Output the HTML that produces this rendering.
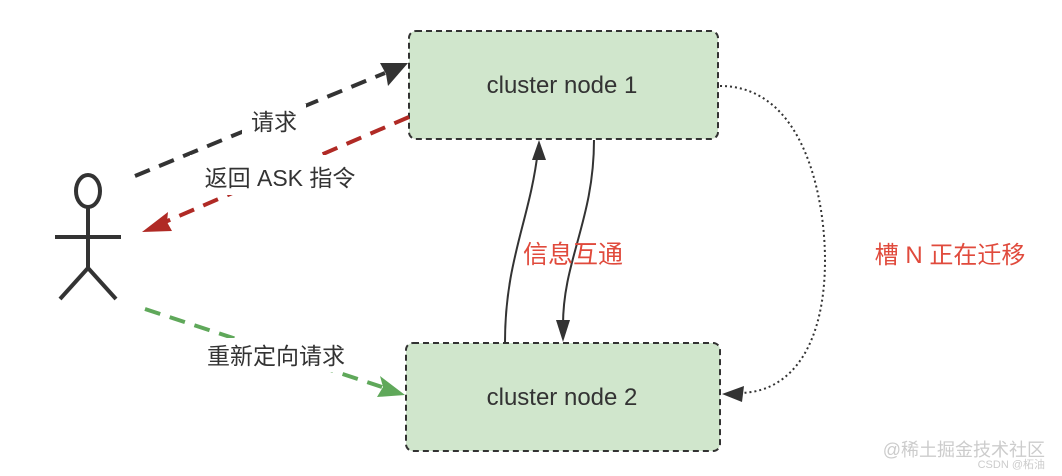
<!DOCTYPE html>
<html><head><meta charset="utf-8"><style>
html,body{margin:0;padding:0;background:#fff;width:1062px;height:476px;overflow:hidden}
text{font-family:"Liberation Sans","Noto Sans CJK SC",sans-serif}
</style></head><body>
<svg width="1062" height="476" viewBox="0 0 1062 476" xmlns="http://www.w3.org/2000/svg">
<rect x="409" y="31" width="309" height="108" rx="7" fill="#d0e6cc" stroke="#333" stroke-width="2" stroke-dasharray="6,4"/>
<rect x="406" y="343" width="314" height="108" rx="7" fill="#d0e6cc" stroke="#333" stroke-width="2" stroke-dasharray="6,4"/>
<text x="562" y="93" font-size="24" fill="#333" text-anchor="middle">cluster node 1</text>
<text x="562" y="405" font-size="24" fill="#333" text-anchor="middle">cluster node 2</text>
<g stroke="#333" stroke-width="4" fill="none">
<ellipse cx="88" cy="191" rx="12" ry="16"/>
<line x1="88" y1="207" x2="88" y2="268"/>
<line x1="55" y1="237" x2="121" y2="237"/>
<line x1="88" y1="268" x2="60" y2="299"/>
<line x1="88" y1="268" x2="116" y2="299"/>
</g>
<line x1="135" y1="176" x2="385" y2="73" stroke="#333" stroke-width="4" stroke-dasharray="16,10"/>
<path d="M408,63 L380,63 L386,74 L388,86z" fill="#333"/>
<line x1="409" y1="117" x2="165" y2="222" stroke="#b02a25" stroke-width="4" stroke-dasharray="16,10"/>
<path d="M142,232 L168,212 L167,222 L172,231z" fill="#b02a25"/>
<line x1="145" y1="309" x2="382" y2="387" stroke="#5fa85a" stroke-width="4" stroke-dasharray="16,10"/>
<path d="M405,395 L377,397 L383,387 L380,376z" fill="#5fa85a"/>
<rect x="242" y="104" width="64" height="34" fill="#fff"/>
<text x="274" y="130" font-size="23" fill="#333" text-anchor="middle">请求</text>
<rect x="190" y="155" width="180" height="40" fill="#fff"/>
<text x="280" y="186" font-size="23" fill="#333" text-anchor="middle">返回 ASK 指令</text>
<rect x="193" y="338" width="166" height="34" fill="#fff"/>
<text x="276" y="364" font-size="23" fill="#333" text-anchor="middle">重新定向请求</text>
<path d="M505,342 C505,260 530,220 538,150" stroke="#333" stroke-width="2" fill="none"/>
<path d="M539,140 L532,160 L546,160z" fill="#333"/>
<path d="M594,140 C594,220 563,260 563,325" stroke="#333" stroke-width="2" fill="none"/>
<path d="M563,342 L556,320 L570,320z" fill="#333"/>
<text x="573" y="263" font-size="25" fill="#e04a3c" text-anchor="middle">信息互通</text>
<path d="M720,86 C805,86 825,200 825,260 C825,340 795,392 740,393" stroke="#333" stroke-width="2" fill="none" stroke-dasharray="2,3"/>
<path d="M722,394 L744,386 L742,402z" fill="#333"/>
<text x="950" y="263" font-size="24" fill="#e04a3c" text-anchor="middle">槽 N 正在迁移</text>
<text x="1045" y="456" font-size="18" fill="#ccc" text-anchor="end">@稀土掘金技术社区</text>
<text x="1045" y="468" font-size="11" fill="#ccc" text-anchor="end">CSDN @柘油</text>
</svg>
</body></html>
